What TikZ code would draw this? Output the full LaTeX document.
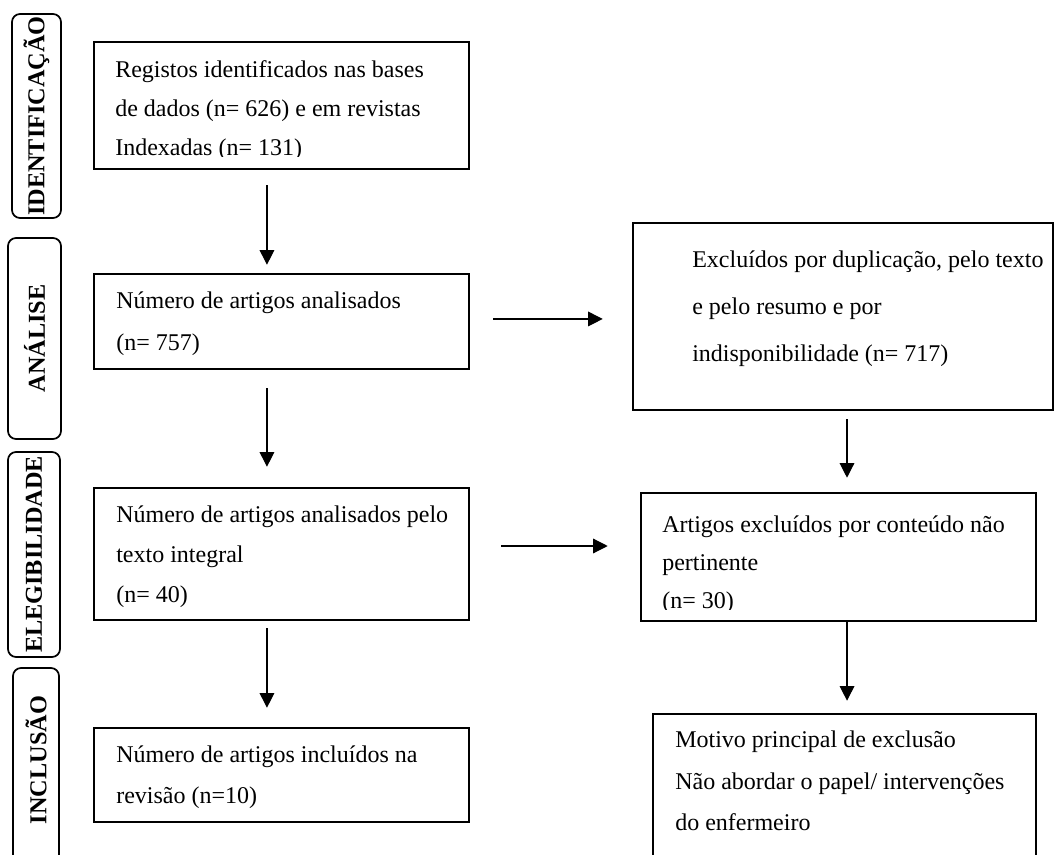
\documentclass[tikz,border=0pt]{standalone}
\usepackage{fontspec}
\setmainfont{Liberation Serif}
\usetikzlibrary{arrows.meta,fit}

\tikzset{
  box/.style={draw, line width=1.9pt, inner sep=0pt},
  phase/.style={draw, line width=1.3pt, rounded corners=6pt, inner sep=0pt},
  phasetxt/.style={rotate=90, inner sep=0pt, font=\fontsize{18.2}{20}\selectfont\bfseries},
  txt/.style={anchor=north west, align=left, inner sep=0pt, font=\fontsize{18}{#1}\selectfont},
  arr/.style={line width=0.9pt, -{Triangle[length=11pt,width=11pt]}}
}

\begin{document}
\begin{tikzpicture}[x=0.75pt, y=-0.75pt]
  \useasboundingbox (0,0) rectangle (1057,855);

  % Fases
  \node[phase, fit={(12,14) (61,218)}] (fid) {};
  \node[phase, fit={(8,238) (61,439)}] (fan) {};
  \node[phase, fit={(8,452) (60,657)}] (fel) {};
  \node[phase, fit={(13,668) (59,900)}] (fin) {};
  \node[phasetxt] (lid) at (fid.center) {IDENTIFICAÇÃO};
  \node[phasetxt] (lan) at (fan.center) {ANÁLISE};
  \node[phasetxt] (lel) at (fel.center) {ELEGIBILIDADE};
  \node[phasetxt] (lin) at (36,760) {INCLUSÃO};

  % Caixas da coluna esquerda
  \node[box, fit={(94,42) (469,169)}] (reg) {};
  \node[box, fit={(94,274) (469,369)}] (ana) {};
  \node[box, fit={(94,488) (469,620)}] (elg) {};
  \node[box, fit={(94,728) (469,822)}] (inc) {};

  % Caixas da coluna direita
  \node[box, fit={(633,223) (1053,410)}] (exc) {};
  \node[box, fit={(641,493) (1036,621)}] (pert) {};
  \node[box, fit={(653,714) (1036,900)}] (mot) {};

  % Textos
  \begin{scope}
    \clip (94,42) rectangle (469,157);
    \node[txt=29.25pt] (treg) at (115,60)
      {Registos identificados nas bases\\de dados (n= 626) e em revistas\\Indexadas (n= 131)};
  \end{scope}
  \node[txt=31.5pt] (tana) at (116,292) {Número de artigos analisados\\(n= 757)};
  \node[txt=30pt] (telg) at (116,506)
    {Número de artigos analisados pelo\\texto integral\\(n= 40)};
  \node[txt=30.75pt] (tinc) at (116,746) {Número de artigos incluídos na\\revisão (n=10)};
  \node[txt=34.9pt] (texc) at (692,251)
    {Excluídos por duplicação, pelo texto\\e pelo resumo e por\\indisponibilidade (n= 717)};
  \begin{scope}
    \clip (641,493) rectangle (1036,609);
    \node[txt=28.5pt] (tpert) at (662,516)
      {Artigos excluídos por conteúdo não\\pertinente\\(n= 30)};
  \end{scope}
  \node[txt=31pt] (tmot) at (675,731)
    {Motivo principal de exclusão\\Não abordar o papel/ intervenções\\do enfermeiro};

  % Setas verticais
  \draw[arr, shorten <=11.25pt, shorten >=6pt]
    ([xshift=-10.9pt]reg.south) -- ([xshift=-10.9pt]ana.north);
  \draw[arr, shorten <=13.5pt, shorten >=15pt]
    ([xshift=-10.9pt]ana.south) -- ([xshift=-10.9pt]elg.north);
  \draw[arr, shorten <=5.25pt, shorten >=14.25pt]
    ([xshift=-10.9pt]elg.south) -- ([xshift=-10.9pt]inc.north);
  \draw[arr, shorten <=6pt, shorten >=10.5pt]
    ([xshift=3pt]exc.south) -- ([xshift=3pt]exc.south |- pert.north);
  \draw[arr, shorten >=9pt]
    ([xshift=6.4pt]pert.south) -- ([xshift=6.4pt]pert.south |- mot.north);

  % Setas horizontais
  \draw[arr, shorten <=17.25pt, shorten >=21.75pt]
    ([yshift=1.9pt]ana.east) -- ([yshift=1.9pt]ana.east -| exc.west);
  \draw[arr, shorten <=23.25pt, shorten >=24pt]
    ([yshift=6pt]elg.east) -- ([yshift=6pt]elg.east -| pert.west);
\end{tikzpicture}
\end{document}
